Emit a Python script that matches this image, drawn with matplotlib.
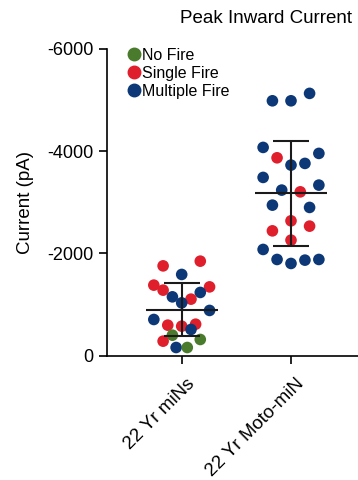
import numpy as np
import matplotlib; matplotlib.use("Agg")
import matplotlib.pyplot as plt
import matplotlib.transforms as mtransforms
from matplotlib.lines import Line2D

plt.rcParams['font.family'] = ['Liberation Sans', 'DejaVu Sans']

groups = ['22 Yr miNs', '22 Yr Moto-miN']
fire_colors = {'none': '#4a7a2b', 'single': '#e01f2d', 'multi': '#0c3877'}
fire_labels = {'none': 'No Fire', 'single': 'Single Fire', 'multi': 'Multiple Fire'}

# group 1: peak current (pA), firing type, swarm column
mins_current = [-1757, -1849, -1589, -1380, -1282, -1346, -1237, -1151, -1106, -1033, -885,
                -708, -597, -577, -616, -513, -401, -317, -284, -160, -160]
mins_fire = ['single', 'single', 'multi', 'single', 'single', 'single', 'multi', 'multi', 'single', 'multi', 'multi',
             'multi', 'single', 'single', 'single', 'multi', 'none', 'none', 'single', 'multi', 'none']
mins_col = [-2, 2, 0, -3, -2, 3, 2, -1, 1, 0, 3,
            -3, -1.5, 0, 1.5, 1, -1, 2, -2, -0.6, 0.6]

# group 2
moto_current = [-4986, -4986, -5131, -4074, -3871, -3957, -3728, -3761, -3487, -3337, -3239,
                -3205, -2945, -2900, -2638, -2442, -2534, -2260, -2078, -1882, -1804, -1869, -1882]
moto_fire = ['multi', 'multi', 'multi', 'multi', 'single', 'multi', 'multi', 'multi', 'multi', 'multi', 'multi',
             'single', 'multi', 'multi', 'single', 'single', 'single', 'single', 'multi', 'multi', 'multi', 'multi', 'multi']
moto_col = [-2, 0, 2, -3, -1.5, 3, 0, 1.5, -3, 3, -1,
            1, -2, 2, 0, -2, 2, 0, -3, -1.5, 0, 1.5, 3]

fig = plt.figure(figsize=(3.58, 4.8), dpi=100)
ax = fig.add_axes([0.299, 0.259, 0.701, 0.639])

step = 0.085
for i, (cur, fire, col) in enumerate([(mins_current, mins_fire, mins_col),
                                      (moto_current, moto_fire, moto_col)]):
    cur = np.array(cur)
    x = i + np.array(col) * step
    c = [fire_colors[f] for f in fire]
    ax.scatter(x, cur, s=70, c=c, edgecolors='none', zorder=2)
    m = cur.mean(); sd = cur.std(ddof=1)
    ax.hlines(m, i - 0.33, i + 0.33, color='#1a1a1a', lw=1.5, zorder=3)
    ax.hlines([m - sd, m + sd], i - 0.165, i + 0.165, color='#1a1a1a', lw=1.5, zorder=3)
    ax.vlines(i, m - sd, m + sd, color='#1a1a1a', lw=1.5, zorder=3)

ax.set_xlim(-0.683, 1.613)
ax.set_ylim(0, -6000)
ax.set_yticks([0, -2000, -4000, -6000])
ax.set_yticklabels(['0', '-2000', '-4000', '-6000'], fontsize=13)
ax.set_xticks([0, 1])
ax.set_xticklabels(groups, rotation=45, ha='right', va='center', rotation_mode='anchor', fontsize=13.5)
ax.tick_params(axis='x', pad=9, length=6, width=1.2)
ax.tick_params(axis='y', length=6, width=1.2)
shift = mtransforms.ScaledTranslation(0.10, -0.05, fig.dpi_scale_trans)
for lab in ax.get_xticklabels():
    lab.set_transform(lab.get_transform() + shift)
for s in ['top', 'right']:
    ax.spines[s].set_visible(False)
for s in ['left', 'bottom']:
    ax.spines[s].set_linewidth(1.2)
ax.set_ylabel('Current (pA)', fontsize=13.5, labelpad=10)

handles = [Line2D([], [], ls='none', marker='o', ms=9, color=fire_colors[k], label=fire_labels[k])
           for k in ['none', 'single', 'multi']]
ax.legend(handles=handles, loc='upper left', bbox_to_anchor=(0.062, 1.025), frameon=False,
          fontsize=11.5, handlelength=0.6, handletextpad=0.2, labelspacing=0.2, borderaxespad=0)

fig.text(0.743, 0.962, 'Peak Inward Current', ha='center', va='center', fontsize=13.5)
fig.savefig('out.png', dpi=100)
